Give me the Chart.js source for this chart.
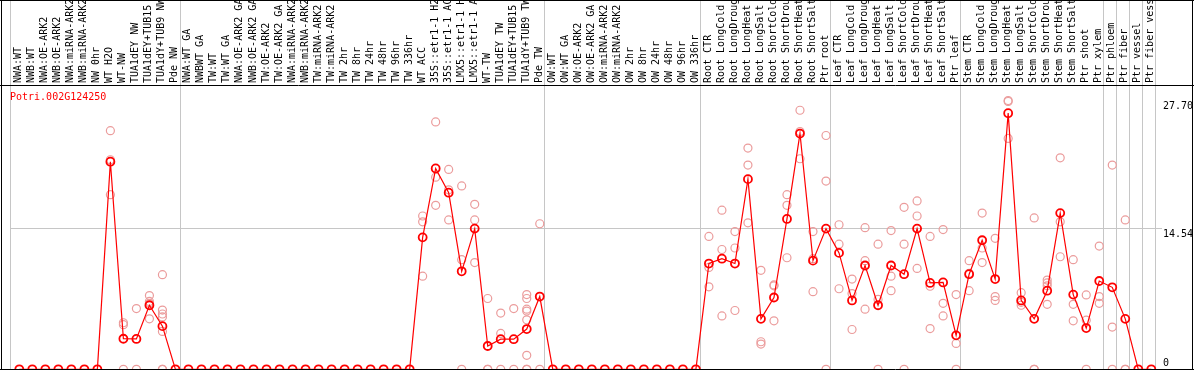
<!DOCTYPE html>
<html>
<head>
<meta charset="utf-8">
<script src="https://cdn.jsdelivr.net/npm/chart.js@4/dist/chart.umd.min.js"></script>
<style>
  html, body { margin: 0; padding: 0; background: #fff; }
  #wrap { width: 1194px; height: 370px; }
</style>
</head>
<body>
<div id="wrap"><canvas id="myChart" width="1194" height="370"></canvas></div>
<script>
// Data
const geneTitle = 'Potri.002G124250';

const categories = [
  'NWA:WT', 'NWB:WT', 'NWA:OE-ARK2', 'NWB:OE-ARK2', 'NWA:miRNA-ARK2', 'NWB:miRNA-ARK2',
  'NW 0hr', 'WT H2O', 'WT-NW', 'TUA1dEY NW', 'TUA1dEY+TUB15 NW', 'TUA1dY+TUB9 NW', 'Pde NW',
  'NWA:WT GA', 'NWBWT GA', 'TW:WT', 'TW:WT GA', 'NWA:OE-ARK2 GA', 'NWB:OE-ARK2 GA',
  'TW:OE-ARK2', 'TW:OE-ARK2 GA', 'NWA:miRNA-ARK2 GA', 'NWB:miRNA-ARK2 GA', 'TW:miRNA-ARK2',
  'TW:miRNA-ARK2 GA', 'TW 2hr', 'TW 8hr', 'TW 24hr', 'TW 48hr', 'TW 96hr', 'TW 336hr',
  'WT ACC', '35S::etr1-1 H2O', '35S::etr1-1 ACC', 'LMX5::etr1-1 H2O', 'LMX5::etr1-1 ACC',
  'WT-TW', 'TUA1dEY TW', 'TUA1dEY+TUB15 TW', 'TUA1dY+TUB9 TW', 'Pde TW',
  'OW:WT', 'OW:WT GA', 'OW:OE-ARK2', 'OW:OE-ARK2 GA', 'OW:miRNA-ARK2', 'OW:miRNA-ARK2 GA',
  'OW 2hr', 'OW 8hr', 'OW 24hr', 'OW 48hr', 'OW 96hr', 'OW 336hr',
  'Root CTR', 'Root LongCold', 'Root LongDrought', 'Root LongHeat', 'Root LongSalt',
  'Root ShortCold', 'Root ShortDrought', 'Root ShortHeat', 'Root ShortSalt', 'Ptr root',
  'Leaf CTR', 'Leaf LongCold', 'Leaf LongDrought', 'Leaf LongHeat', 'Leaf LongSalt',
  'Leaf ShortCold', 'Leaf ShortDrought', 'Leaf ShortHeat', 'Leaf ShortSalt', 'Ptr leaf',
  'Stem CTR', 'Stem LongCold', 'Stem LongDrought', 'Stem LongHeat', 'Stem LongSalt',
  'Stem ShortCold', 'Stem ShortDrought', 'Stem ShortHeat', 'Stem ShortSalt', 'Ptr shoot',
  'Ptr xylem', 'Ptr phloem', 'Ptr fiber', 'Ptr vessel', 'Ptr fiber vessel',
];

// mean expression per sample
const means = [
  0, 0, 0, 0, 0, 0, 0, 21.4, 3.15, 3.13, 6.6, 4.45, 0,
  0, 0, 0, 0, 0, 0, 0, 0, 0, 0, 0, 0, 0, 0, 0, 0, 0, 0,
  13.6, 20.7, 18.2, 10.1, 14.5, 2.4, 3.1, 3.1, 4.15, 7.5,
  0, 0, 0, 0, 0, 0, 0, 0, 0, 0, 0, 0,
  10.9, 11.4, 10.9, 19.6, 5.2, 7.4, 15.5, 24.3, 11.2, 14.5,
  12.0, 7.1, 10.7, 6.6, 10.7, 9.8, 14.5, 8.9, 8.95, 3.5,
  9.8, 13.3, 9.3, 26.4, 7.1, 5.2, 8.1, 16.1, 7.7, 4.25, 9.1,
  8.45, 5.2, 0, 0,
];

// single replicates, keyed by sample index
const replicates = {
  7: [24.6, 21.6, 18.0],
  8: [4.8, 4.6, 0],
  9: [6.26, 0],
  10: [7.6, 7.0, 6.8, 5.2],
  11: [9.75, 6.1, 5.7, 5.4, 3.9, 0, 0],
  31: [15.8, 15.2, 9.6],
  32: [25.5, 19.8, 16.9],
  33: [20.6, 18.5, 15.4],
  34: [18.9, 11.3, 0],
  35: [17.0, 15.4, 11.0],
  36: [7.3, 0, 0],
  37: [5.8, 3.7, 0],
  38: [6.26, 0],
  39: [7.7, 7.3, 6.2, 6.0, 5.1, 1.44, 0, 0],
  40: [15.0, 0],
  53: [13.7, 10.5, 8.5],
  54: [16.4, 12.35, 5.5],
  55: [14.2, 12.5, 6.06],
  56: [22.8, 21.05, 15.1],
  57: [10.2, 2.84, 2.6],
  58: [8.7, 8.6, 5.0],
  59: [18.0, 16.9, 11.5],
  60: [26.7, 24.5, 21.7],
  61: [14.2, 11.4, 8.0],
  62: [24.1, 19.4, 0],
  63: [14.9, 12.9, 8.3],
  64: [9.3, 7.8, 4.1],
  65: [14.6, 11.2, 6.2],
  66: [12.9, 7.2, 0],
  67: [14.3, 9.6, 8.1],
  68: [16.7, 12.9, 0],
  69: [17.35, 15.8, 10.4],
  70: [13.7, 8.56, 4.2],
  71: [14.4, 6.8, 5.5],
  72: [7.7, 2.67, 0],
  73: [11.2, 9.9, 8.1],
  74: [16.1, 12.5, 11.0],
  75: [13.5, 7.5, 7.1],
  76: [27.7, 27.6, 23.8],
  77: [7.9, 6.9, 6.6],
  78: [15.6, 0, 0],
  79: [9.2, 8.9, 8.6, 6.7],
  80: [21.8, 15.2, 11.6],
  81: [11.3, 6.7, 5.0],
  82: [7.67, 5.06, 0],
  83: [12.7, 7.5, 6.8],
  84: [21.05, 4.35, 0],
  85: [15.4, 0, 0],
};

// sample index where each group ends (separator lines)
const groupEnds = [13, 41, 53, 63, 73, 84, 85, 86, 87, 88];

// right side tick labels
const yTicks = [27.70, 14.54, 0];
const yTickLabels = ['27.70', '14.54', '0'];
const yGridValue = 14.54;

// Build datasets
const meanPoints = means.map((v, i) => ({ x: i, y: v }));
const repPoints = [];
Object.keys(replicates).forEach((k) => {
  replicates[k].forEach((v) => repPoints.push({ x: Number(k), y: v }));
});

const slotShift = 0.715;
const monoFont = '10px "DejaVu Sans Mono", "Liberation Mono", monospace';

const decor = {
  id: 'decor',
  beforeDatasetsDraw(chart) {
    const { ctx, chartArea: a } = chart;
    const { x, y } = chart.scales;
    ctx.save();
    ctx.lineWidth = 1;
    ctx.strokeStyle = '#c6c6c6';
    // group separators, through header and plot
    [0, ...groupEnds].forEach((k) => {
      const px = Math.ceil(x.getPixelForValue(k - slotShift) - 0.01) + 0.5;
      ctx.beginPath();
      ctx.moveTo(px, 0);
      ctx.lineTo(px, a.bottom);
      ctx.stroke();
    });
    const labelX = 1163;
    const gy = Math.round(y.getPixelForValue(yGridValue)) + 0.5;
    ctx.beginPath();
    ctx.moveTo(a.left, gy);
    ctx.lineTo(labelX - 1, gy);
    ctx.stroke();

    // header labels
    ctx.fillStyle = '#000';
    ctx.font = monoFont;
    ctx.textAlign = 'left';
    ctx.textBaseline = 'alphabetic';
    categories.forEach((lab, i) => {
      const px = x.getPixelForValue(i);
      ctx.save();
      ctx.translate(Math.round(px) + 2, 83);
      ctx.rotate(-Math.PI / 2);
      ctx.fillText(lab, 0, 0);
      ctx.restore();
    });

    // right tick labels
    yTicks.forEach((v, j) => {
      const py = Math.min(y.getPixelForValue(v) + 8.5, a.bottom - 3);
      ctx.fillText(yTickLabels[j], labelX, py);
    });

    // gene title
    ctx.fillStyle = '#ff0000';
    ctx.fillText(geneTitle, 10, 100);
    ctx.restore();
  },
  afterDatasetsDraw(chart) {
    const { ctx, width, height } = chart;
    ctx.save();
    ctx.strokeStyle = '#000';
    ctx.lineWidth = 1;
    ctx.beginPath();
    ctx.moveTo(0, 85.5); ctx.lineTo(width, 85.5);
    ctx.moveTo(1.5, 0); ctx.lineTo(1.5, height);
    ctx.moveTo(0, 369.5); ctx.lineTo(width, 369.5);
    ctx.moveTo(width - 1.5, 0); ctx.lineTo(width - 1.5, height);
    ctx.moveTo(0, 0.5); ctx.lineTo(width, 0.5);
    ctx.stroke();
    ctx.restore();
  },
};

const config = {
  type: 'line',
  data: {
    datasets: [
      {
        label: 'mean',
        data: meanPoints,
        borderColor: '#ff0000',
        borderWidth: 1.2,
        pointRadius: 4,
        pointBorderWidth: 1.8,
        pointBorderColor: '#ff0000',
        pointBackgroundColor: 'rgba(0,0,0,0)',
        tension: 0,
        clip: false,
        order: 0,
      },
      {
        label: 'replicates',
        data: repPoints,
        showLine: false,
        pointRadius: 4,
        pointBorderWidth: 1.2,
        pointBorderColor: '#eb9c9c',
        pointBackgroundColor: 'rgba(0,0,0,0)',
        clip: false,
        order: 1,
      },
    ],
  },
  options: {
    responsive: false,
    animation: false,
    layout: { autoPadding: false, padding: { left: 10, right: 39, top: 86, bottom: 0.7 } },
    plugins: {
      legend: { display: false },
      tooltip: { enabled: false },
    },
    scales: {
      x: {
        type: 'linear',
        display: false,
        min: -slotShift,
        max: categories.length - slotShift,
      },
      y: {
        display: false,
        min: 0,
        max: 29.2,
      },
    },
  },
  plugins: [decor],
};

const myChart = new Chart(document.getElementById('myChart'), config);
</script>
</body>
</html>
